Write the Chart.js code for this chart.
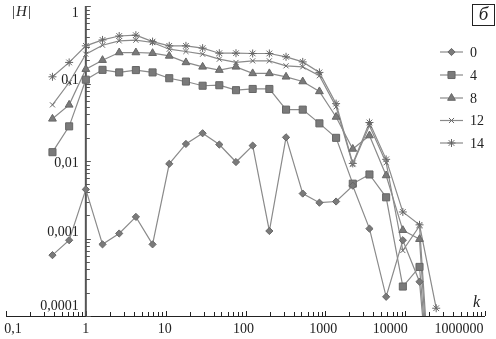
<!DOCTYPE html>
<html>
<head>
<meta charset="utf-8">
<script src="https://cdn.jsdelivr.net/npm/chart.js@4.4.1/dist/chart.umd.min.js"></script>
<style>
  html, body { margin: 0; padding: 0; background: #fff; }
</style>
</head>
<body>
<canvas id="chart" width="496" height="339"></canvas>
<script>
// k values (abscissa) shared by all curves
const kValues = [0.382, 0.618, 1, 1.618, 2.618, 4.236, 6.854, 11.09, 17.94, 29.03, 46.98, 76.01,
                 123, 199, 322, 521, 843, 1364, 2207, 3571, 5778, 9349, 15127, 24476];

// |H| for each curve
const series0  = [0.00061, 0.00095, 0.0043, 0.00084, 0.00116, 0.0019, 0.00084, 0.0092, 0.0166, 0.0228, 0.0163, 0.0097,
                  0.0158, 0.00125, 0.0202, 0.0038, 0.0029, 0.0030, 0.0048, 0.00134, 0.000177, 0.00095, 0.000277, 0.000001];
const series4  = [0.013, 0.028, 0.112, 0.150, 0.139, 0.149, 0.139, 0.117, 0.106, 0.0936, 0.095, 0.082,
                  0.085, 0.085, 0.046, 0.046, 0.0306, 0.0199, 0.0051, 0.0067, 0.0034, 0.00024, 0.00043, 0.000001];
const series8  = [0.035, 0.053, 0.153, 0.200, 0.251, 0.251, 0.246, 0.227, 0.187, 0.164, 0.149, 0.164,
                  0.135, 0.135, 0.122, 0.106, 0.079, 0.037, 0.0143, 0.0213, 0.0065, 0.00128, 0.00098, 0.0000005];
const series12 = [0.053, 0.103, 0.239, 0.312, 0.355, 0.362, 0.338, 0.277, 0.259, 0.239, 0.206, 0.187,
                  0.196, 0.196, 0.169, 0.164, 0.126, 0.050, 0.0090, 0.0286, 0.0095, 0.0007, 0.00145, 0.0000008];
const series14 = [0.122, 0.187, 0.306, 0.365, 0.410, 0.420, 0.347, 0.306, 0.306, 0.286, 0.246, 0.246,
                  0.244, 0.244, 0.221, 0.190, 0.139, 0.055, 0.0093, 0.0314, 0.0105, 0.0022, 0.0015, 0.000126];

const seriesLabels = ['0', '4', '8', '12', '14'];

// tick labels (the last one is printed as in the original figure)
const xTickValues = [0.1, 1, 10, 100, 1000, 10000, 100000];
const xTickLabels = ['0,1', '1', '10', '100', '1000', '10000', '1000000'];
const yTickValues = [1, 0.1, 0.01, 0.001, 0.0001];
const yTickLabels = ['1', '0,1', '0,01', '0,001', '0,0001'];

const serif = '"Liberation Serif", "DejaVu Serif", serif';
const markColor = '#7a7a7a';
const lineColor = '#8a8a8a';

const styles = [
  { pointStyle: 'rectRot',  radius: 3.6 },
  { pointStyle: 'rect',     radius: 5 },
  { pointStyle: 'triangle', radius: 4.5 },
  { pointStyle: 'crossRot', radius: 3.6 },
  { pointStyle: 'star',     radius: 4 }
];

const allSeries = [series0, series4, series8, series12, series14];

const datasets = allSeries.map((vals, i) => ({
  label: seriesLabels[i],
  data: vals.map((v, j) => ({ x: kValues[j], y: v })),
  borderColor: lineColor,
  borderWidth: 1.2,
  pointStyle: styles[i].pointStyle,
  pointRadius: styles[i].radius,
  pointBackgroundColor: markColor,
  pointBorderColor: '#666',
  pointBorderWidth: 1,
  tension: 0
}));

// axes, ticks and labels drawn on the library's scales
const axesPlugin = {
  id: 'axes',
  beforeDatasetsDraw(chart) {
    const { ctx, scales: { x, y } } = chart;
    const yb = y.getPixelForValue(0.0001);
    const yt = y.getPixelForValue(1);
    const x1 = x.getPixelForValue(1);
    ctx.save();
    // x axis
    ctx.strokeStyle = '#222';
    ctx.lineWidth = 1;
    ctx.beginPath();
    ctx.moveTo(x.left, yb + 0.5);
    ctx.lineTo(x.right, yb + 0.5);
    for (let d = -1; d <= 4; d++) {
      for (let m = 1; m <= 9; m++) {
        const v = m * Math.pow(10, d);
        if (v < 0.1 || v > 100000) continue;
        const px = Math.round(x.getPixelForValue(v)) + 0.5;
        ctx.moveTo(px, yb);
        ctx.lineTo(px, yb - (m === 1 ? 5 : 4));
      }
    }
    ctx.moveTo(x.right + 0.5, yb);
    ctx.lineTo(x.right + 0.5, yb - 5);
    ctx.stroke();
    // y axis
    ctx.strokeStyle = '#555';
    ctx.lineWidth = 2;
    ctx.beginPath();
    ctx.moveTo(x1, yt);
    ctx.lineTo(x1, yb);
    ctx.stroke();
    ctx.lineWidth = 1;
    ctx.beginPath();
    for (let d = -4; d <= -1; d++) {
      for (let m = 1; m <= 9; m++) {
        const v = m * Math.pow(10, d);
        const py = Math.round(y.getPixelForValue(v)) + 0.5;
        ctx.moveTo(x1, py);
        ctx.lineTo(x1 + (m === 1 ? 5 : 4), py);
      }
    }
    ctx.moveTo(x1, yt + 0.5);
    ctx.lineTo(x1 + 5, yt + 0.5);
    ctx.stroke();
    ctx.restore();
  },
  afterDraw(chart) {
    const { ctx, scales: { x, y } } = chart;
    const yb = y.getPixelForValue(0.0001);
    const x1 = x.getPixelForValue(1);
    ctx.save();
    ctx.fillStyle = '#222';
    ctx.font = '14px ' + serif;
    // x tick labels
    const xShift = [7, 0, -1, -2, -2, -15, -26];
    ctx.textAlign = 'center';
    ctx.textBaseline = 'middle';
    xTickValues.forEach((v, i) => {
      ctx.fillText(xTickLabels[i], x.getPixelForValue(v) + xShift[i], yb + 13);
    });
    // y tick labels
    const yShift = [7, -3, 2, -6, -10];
    ctx.textAlign = 'right';
    yTickValues.forEach((v, i) => {
      ctx.fillText(yTickLabels[i], x1 - 7, y.getPixelForValue(v) + yShift[i]);
    });
    // axis titles
    ctx.textAlign = 'left';
    ctx.font = '15px ' + serif;
    ctx.fillText('|', 12, 12);
    ctx.font = 'italic 15px ' + serif;
    ctx.fillText('H', 16, 12);
    ctx.font = '15px ' + serif;
    ctx.fillText('|', 28, 12);
    ctx.font = 'italic 16px ' + serif;
    ctx.fillText('k', 473, 303);
    // panel letter
    ctx.strokeStyle = '#222';
    ctx.lineWidth = 1;
    ctx.strokeRect(472.5, 4.5, 22, 21);
    ctx.textAlign = 'center';
    ctx.font = 'italic 19px ' + serif;
    ctx.fillText('б', 483.5, 15);
    // legend
    const rowY = [52, 75, 98, 120.5, 143];
    ctx.font = '14px ' + serif;
    ctx.textAlign = 'left';
    chart.data.datasets.forEach((ds, i) => {
      const ly = rowY[i];
      ctx.strokeStyle = lineColor;
      ctx.lineWidth = 1.2;
      ctx.beginPath();
      ctx.moveTo(440, ly);
      ctx.lineTo(463, ly);
      ctx.stroke();
      ctx.fillStyle = markColor;
      ctx.strokeStyle = '#666';
      ctx.lineWidth = 1;
      Chart.helpers.drawPoint(ctx, {
        pointStyle: ds.pointStyle,
        radius: ds.pointRadius,
        rotation: 0,
        borderWidth: 1
      }, 451.5, ly);
      ctx.fillStyle = '#222';
      ctx.fillText(ds.label, 470, ly + 1);
    });
    ctx.restore();
  }
};

new Chart(document.getElementById('chart'), {
  type: 'line',
  data: { datasets },
  options: {
    responsive: false,
    animation: false,
    devicePixelRatio: 1,
    layout: { padding: { left: 3, right: 11, top: 5, bottom: 23 } },
    scales: {
      x: { type: 'logarithmic', min: 0.1, max: 100000, display: false },
      y: { type: 'logarithmic', min: 0.0001, max: 1, display: false }
    },
    plugins: {
      legend: { display: false },
      tooltip: { enabled: false }
    }
  },
  plugins: [axesPlugin]
});
</script>
</body>
</html>
